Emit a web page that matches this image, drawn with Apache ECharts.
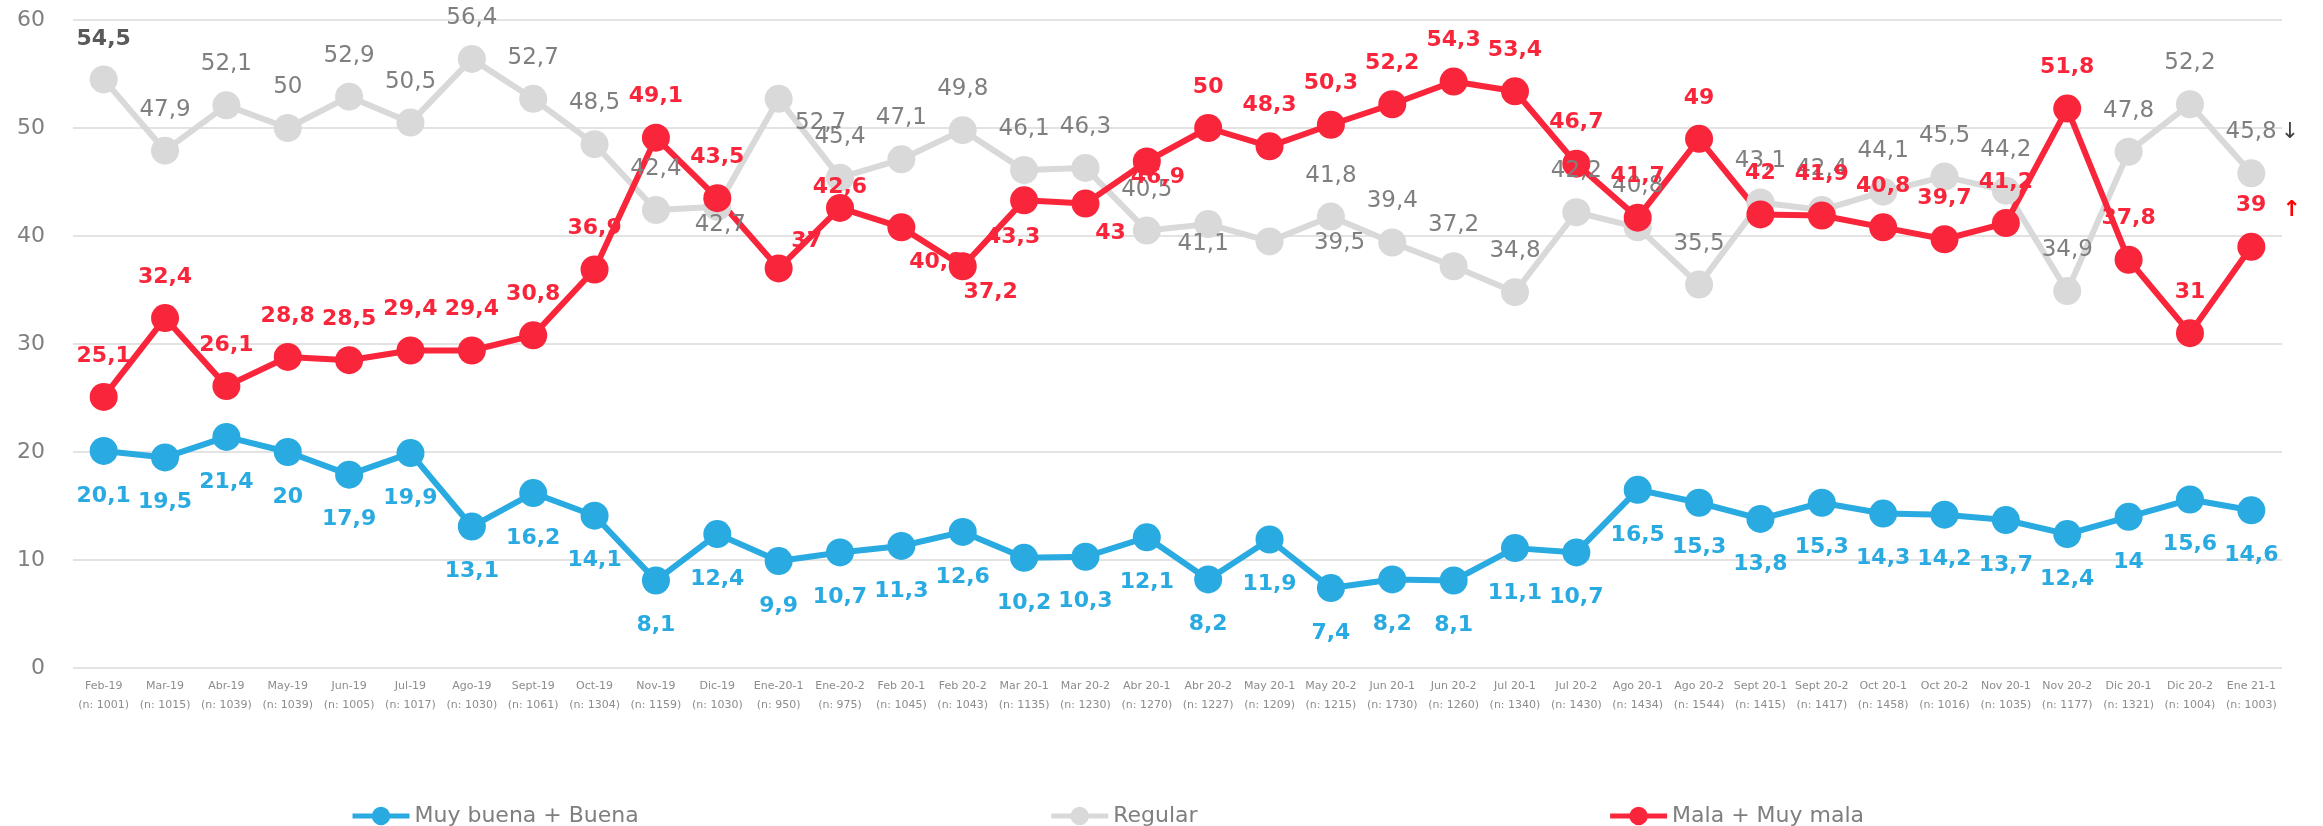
<!DOCTYPE html>
<html>
<head>
<meta charset="utf-8">
<script src="https://cdn.jsdelivr.net/npm/echarts@6/dist/echarts.min.js"></script>
<style>
  html, body { margin: 0; padding: 0; background: #fff; }
  #chart { width: 2323px; height: 826px; }
</style>
</head>
<body>
<div id="chart"></div>
<script>
const categories = ['Feb-19', 'Mar-19', 'Abr-19', 'May-19', 'Jun-19', 'Jul-19', 'Ago-19', 'Sept-19', 'Oct-19', 'Nov-19', 'Dic-19', 'Ene-20-1',
  'Ene-20-2', 'Feb 20-1', 'Feb 20-2', 'Mar 20-1', 'Mar 20-2', 'Abr 20-1', 'Abr 20-2', 'May 20-1', 'May 20-2', 'Jun 20-1', 'Jun 20-2', 'Jul 20-1',
  'Jul 20-2', 'Ago 20-1', 'Ago 20-2', 'Sept 20-1', 'Sept 20-2', 'Oct 20-1', 'Oct 20-2', 'Nov 20-1', 'Nov 20-2', 'Dic 20-1', 'Dic 20-2', 'Ene 21-1'];
const sampleSizes = [1001, 1015, 1039, 1039, 1005, 1017, 1030, 1061, 1304, 1159, 1030, 950,
  975, 1045, 1043, 1135, 1230, 1270, 1227, 1209, 1215, 1730, 1260, 1340,
  1430, 1434, 1544, 1415, 1417, 1458, 1016, 1035, 1177, 1321, 1004, 1003];
const muyBuenaBuena = [20.1, 19.5, 21.4, 20, 17.9, 19.9, 13.1, 16.2, 14.1, 8.1, 12.4, 9.9,
  10.7, 11.3, 12.6, 10.2, 10.3, 12.1, 8.2, 11.9, 7.4, 8.2, 8.1, 11.1,
  10.7, 16.5, 15.3, 13.8, 15.3, 14.3, 14.2, 13.7, 12.4, 14, 15.6, 14.6];
const regular = [54.5, 47.9, 52.1, 50, 52.9, 50.5, 56.4, 52.7, 48.5, 42.4, 42.7, 52.7,
  45.4, 47.1, 49.8, 46.1, 46.3, 40.5, 41.1, 39.5, 41.8, 39.4, 37.2, 34.8,
  42.2, 40.8, 35.5, 43.1, 42.4, 44.1, 45.5, 44.2, 34.9, 47.8, 52.2, 45.8];
const malaMuyMala = [25.1, 32.4, 26.1, 28.8, 28.5, 29.4, 29.4, 30.8, 36.9, 49.1, 43.5, 37,
  42.6, 40.8, 37.2, 43.3, 43, 46.9, 50, 48.3, 50.3, 52.2, 54.3, 53.4,
  46.7, 41.7, 49, 42, 41.9, 40.8, 39.7, 41.2, 51.8, 37.8, 31, 39];
const yTicks = [0, 10, 20, 30, 40, 50, 60];

// label placement tweaks (label centre relative to the point)
const grayShift = { 0: [0, -40], 10: [3, 18], 11: [42, 24], 18: [-5, 20], 19: [70, 2], 35: [11, -41] };
const redShift = { 11: [28, -27], 12: [0, -21], 13: [35, 35], 14: [28, 26], 15: [-11, 37], 16: [25, 30], 17: [11, 16], 35: [17, -37] };

const FONT = 'DejaVu Sans';
const BLUE = '#29abe2', GRAY = '#d9d9d9', RED = '#f9263b';
const last = categories.length - 1;

function fmt(v) {
  return String(v).replace('.', ',');
}

function makeSeries(name, values, color, labelColor, bold, defShift, shifts, arrow) {
  return {
    name: name,
    type: 'line',
    symbol: 'circle',
    symbolSize: 28,
    lineStyle: { width: 6, color: color },
    itemStyle: { color: color },
    emphasis: { disabled: true },
    label: {
      show: true,
      position: 'inside',
      color: labelColor,
      fontFamily: FONT,
      fontSize: bold ? 22 : 23,
      fontWeight: bold ? 'bold' : 'normal',
      formatter: function (p) {
        const t = fmt(p.value);
        if (p.dataIndex === last && arrow) return '{v|' + t + '}' + arrow;
        return t;
      },
      rich: {
        v: { color: labelColor, fontFamily: FONT, fontSize: bold ? 22 : 23, fontWeight: bold ? 'bold' : 'normal', padding: bold ? [0, 0, 9, 0] : 0 },
        dn: { color: '#404040', fontFamily: FONT, fontSize: 22, padding: [0, 0, 0, 4] },
        up: { color: '#ff0000', fontFamily: FONT, fontSize: 22, padding: [0, 0, 0, 16] }
      }
    },
    data: values.map(function (v, i) {
      return { value: v, label: { offset: shifts[i] || defShift } };
    }),
    z: 2
  };
}

const series = [
  makeSeries('Muy buena + Buena', muyBuenaBuena, BLUE, BLUE, true, [0, 45], {}, null),
  makeSeries('Regular', regular, GRAY, '#7f7f7f', false, [0, -41], grayShift, '{dn|↓}'),
  makeSeries('Mala + Muy mala', malaMuyMala, RED, RED, true, [0, -41], redShift, '{up|↑}')
];
// first Regular label is bold and darker
series[1].data[0].label.fontWeight = 'bold';
series[1].data[0].label.fontSize = 22;
series[1].data[0].label.color = '#595959';

const chart = echarts.init(document.getElementById('chart'));
chart.setOption({
  animation: false,
  textStyle: { fontFamily: FONT },
  grid: { left: 73, right: 41, top: 20, bottom: 158 },
  legend: {
    left: 345,
    top: 800,
    itemWidth: 57,
    itemHeight: 23,
    itemGap: 410,
    lineStyle: { width: 5 },
    textStyle: { color: '#7f7f7f', fontSize: 22, fontFamily: FONT },
    data: series.map(function (s) { return s.name; })
  },
  xAxis: {
    type: 'category',
    data: categories,
    axisLine: { show: false },
    axisTick: { show: false },
    axisLabel: {
      interval: 0,
      margin: 9,
      color: '#8c8c8c',
      fontSize: 11,
      lineHeight: 19,
      formatter: function (v, i) {
        return v + '\n(n: ' + sampleSizes[i] + ')';
      }
    }
  },
  yAxis: {
    type: 'value',
    min: yTicks[0],
    max: yTicks[yTicks.length - 1],
    interval: 10,
    axisLine: { show: false },
    axisTick: { show: false },
    axisLabel: { color: '#7f7f7f', fontSize: 22, margin: 28 },
    splitLine: { lineStyle: { color: '#e3e3e3', width: 2 } }
  },
  series: series
});
window.addEventListener('resize', function () { chart.resize(); });
</script>
</body>
</html>
